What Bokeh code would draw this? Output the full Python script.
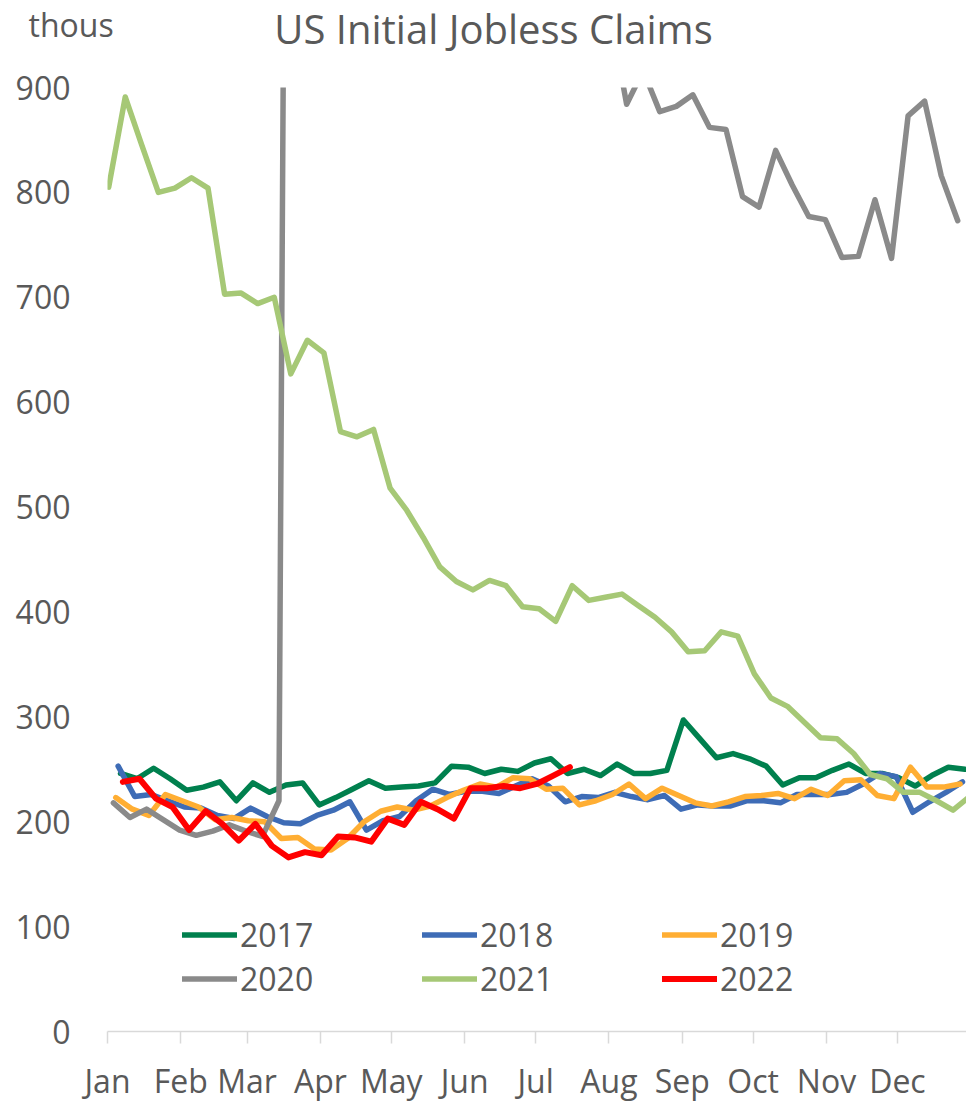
import datetime as dt
from bokeh.plotting import figure
from bokeh.models import Range1d, FixedTicker, Legend, LegendItem, Label
from bokeh.embed import file_html
from bokeh.resources import INLINE

# ---------------- data (thousands, weekly) ----------------
months = ["Jan", "Feb", "Mar", "Apr", "May", "Jun", "Jul", "Aug", "Sep", "Oct", "Nov", "Dec"]
month_start_day = [0, 31, 59, 90, 120, 151, 181, 212, 243, 273, 304, 334]
y_ticks = [0, 100, 200, 300, 400, 500, 600, 700, 800, 900]

years = ["2017", "2018", "2019", "2020", "2021", "2022"]
first_week_end = ["2017-01-07", "2018-01-06", "2019-01-05", "2020-01-04", "2021-01-02", "2022-01-08"]

claims_2017 = [246, 241, 251, 241, 230, 233, 238, 220, 237, 228, 235, 237, 216, 223, 231, 239,
               232, 233, 234, 237, 253, 252, 246, 250, 248, 256, 260, 246, 250, 244, 255, 246,
               246, 249, 297, 279, 261, 265, 260, 253, 235, 242, 242, 249, 255, 246, 246, 242,
               234, 244, 252, 250]
claims_2018 = [253, 224, 226, 220, 214, 213, 206, 203, 213, 205, 199, 198, 206, 211, 219, 192,
               201, 205, 220, 231, 226, 229, 229, 227, 234, 241, 234, 219, 224, 223, 228, 224,
               221, 225, 212, 216, 215, 215, 220, 220, 218, 226, 226, 226, 228, 236, 246, 243,
               209, 219, 228, 238]
claims_2019 = [223, 212, 206, 226, 220, 214, 202, 204, 201, 200, 184, 185, 174, 173, 184, 200,
               210, 214, 211, 215, 223, 230, 236, 233, 242, 241, 231, 232, 216, 220, 226, 236,
               222, 232, 225, 218, 215, 219, 224, 225, 227, 222, 231, 225, 239, 240, 225, 222,
               252, 233, 233, 236]
# weeks 12-31 of 2020 lie far above the 900 axis limit (off-scale, estimated)
claims_2020 = [218, 204, 212, 202, 192, 187, 191, 197, 191, 186, 220, 2914, 6137, 6867, 6615, 5237,
               4442, 3867, 3176, 2687, 2446, 2126, 1897, 1566, 1540, 1482, 1413, 1310, 1307, 1180,
               970, 884, 916, 877, 882, 893, 862, 860, 796, 786, 840, 807, 777, 774, 738, 739,
               793, 737, 873, 887, 816, 773]
claims_2021 = [805, 891, 845, 800, 804, 814, 804, 703, 704, 694, 700, 627, 659, 647, 572, 567,
               574, 518, 497, 471, 443, 429, 421, 430, 425, 405, 403, 391, 425, 411, 414, 417,
               406, 395, 381, 362, 363, 381, 377, 341, 318, 310, 295, 280, 279, 265, 245, 241,
               228, 228, 220, 211, 224]
claims_2022 = [238, 241, 222, 214, 192, 210, 198, 182, 198, 177, 166, 171, 168, 186, 185, 181,
               203, 197, 219, 212, 203, 232, 232, 234, 232, 236, 244, 252]

series = [claims_2017, claims_2018, claims_2019, claims_2020, claims_2021, claims_2022]
colors = ["#00804E", "#3E6CB6", "#FFAE33", "#8A8A8A", "#A6C876", "#FF0000"]

TEXT = "#595959"
FONT = "Open Sans"

# ---------------- header (title + unit), a separate root ----------------
head = figure(width=966, height=60, output_backend="svg", toolbar_location=None, title=None,
              x_range=Range1d(0, 966), y_range=Range1d(0, 60),
              x_axis_type=None, y_axis_type=None,
              min_border_left=0, min_border_right=0, min_border_top=0, min_border_bottom=0)
head.outline_line_color = None
head.grid.visible = False
head.add_layout(Label(x=493, y=32, x_units="screen", y_units="screen",
                      text="US Initial Jobless Claims", text_align="center",
                      text_baseline="alphabetic", text_font=FONT, text_font_size="40px",
                      text_color=TEXT))
head.add_layout(Label(x=28, y=36, x_units="screen", y_units="screen",
                      text="thous", text_align="left", text_baseline="alphabetic",
                      text_font=FONT, text_font_size="32px", text_color=TEXT))

# ---------------- main chart ----------------
p = figure(width=966, height=1044, output_backend="svg", toolbar_location=None, title=None,
           x_range=Range1d(0, 363.2), y_range=Range1d(0, 900),
           min_border_left=107, min_border_right=0, min_border_top=27, min_border_bottom=71,
           background_fill_color="white", border_fill_color="white")
p.outline_line_color = None
p.grid.visible = False

renderers = []
for yr, start, vals, col in zip(years, first_week_end, series, colors):
    d = dt.date.fromisoformat(start)
    d0 = d.timetuple().tm_yday - 1.5
    xs = [d0 + 7 * i for i in range(len(vals))]
    r = p.line(xs, vals, line_color=col, line_width=6 if yr == "2022" else 5.5,
               line_join="round", line_cap="round")
    renderers.append(r)

# x axis
xa = p.xaxis[0]
xa.ticker = FixedTicker(ticks=month_start_day)
xa.major_label_overrides = {d: m for d, m in zip(month_start_day, months)}
xa.axis_line_color = "#D9D9D9"
xa.axis_line_width = 1.5
xa.major_tick_line_color = "#D9D9D9"
xa.major_tick_line_width = 1.5
xa.major_tick_out = 12
xa.major_tick_in = 0
xa.minor_tick_line_color = None
xa.major_label_standoff = 15
xa.major_label_text_font = FONT
xa.major_label_text_font_size = "32px"
xa.major_label_text_color = TEXT

# y axis
ya = p.yaxis[0]
ya.ticker = FixedTicker(ticks=y_ticks)
ya.axis_line_color = None
ya.major_tick_line_color = None
ya.minor_tick_line_color = None
ya.major_tick_out = 0
ya.major_tick_in = 0
ya.major_label_standoff = 37
ya.major_label_text_font = FONT
ya.major_label_text_font_size = "32px"
ya.major_label_text_color = TEXT

# legend
items = [LegendItem(label=yr, renderers=[r]) for yr, r in zip(years, renderers)]
legend = Legend(items=items, location=(75, 31), orientation="horizontal", ncols=3,
                glyph_width=55, glyph_height=33, label_height=33, label_width=181,
                label_standoff=3, spacing=1, padding=0, margin=0,
                border_line_color=None, background_fill_alpha=0,
                label_text_font=FONT, label_text_font_size="32px", label_text_color=TEXT)
p.add_layout(legend, "center")

open("out.html", "w").write(file_html([head, p], INLINE))
